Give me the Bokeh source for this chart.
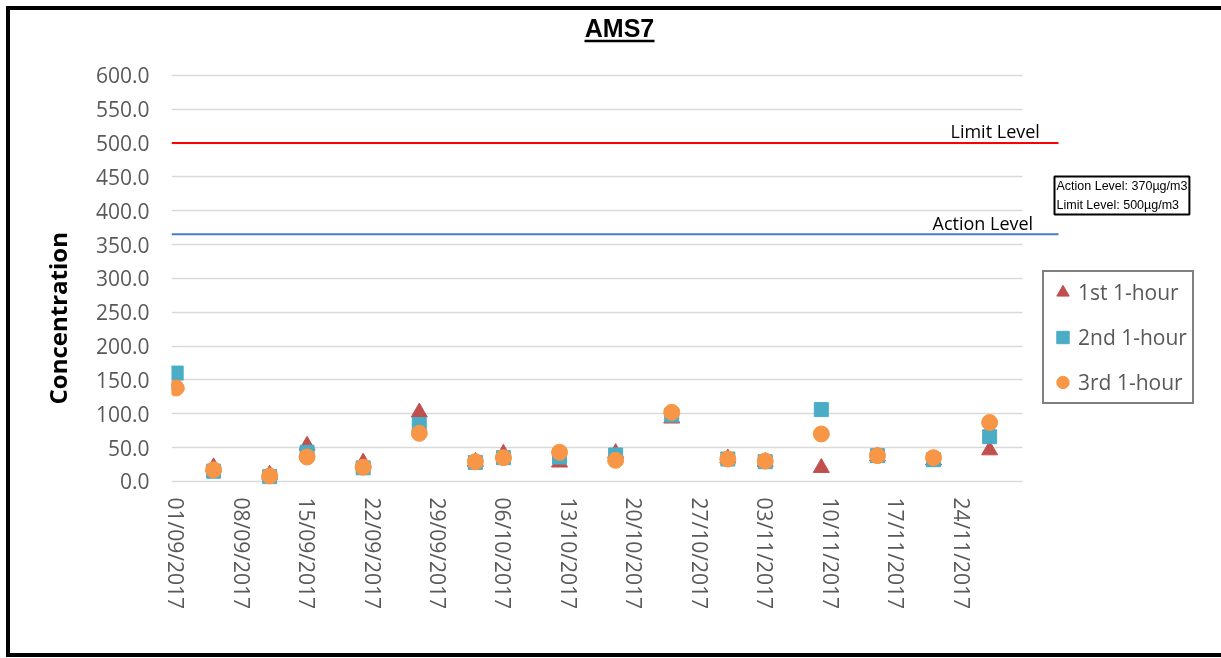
import datetime as dt
import math
from bokeh.plotting import figure
from bokeh.models import (ColumnDataSource, Range1d, FixedTicker, DatetimeTickFormatter,
                          NumeralTickFormatter, Label, Legend, LegendItem, BoxAnnotation, Title)
from bokeh.embed import file_html
from bokeh.resources import INLINE

# ---------------- data ----------------
title_text = "AMS7"
y_label = "Concentration"
dates = ["2017-09-01", "2017-09-05", "2017-09-11", "2017-09-15", "2017-09-21", "2017-09-27",
         "2017-10-03", "2017-10-06", "2017-10-12", "2017-10-18", "2017-10-24", "2017-10-30",
         "2017-11-03", "2017-11-09", "2017-11-15", "2017-11-21", "2017-11-27"]
first_hour = [142, 21, 10, 53, 28, 102, 29, 41, 28, 42, 93, 34, 29, 20, 37, 31, 46]
second_hour = [160, 15, 7, 43, 20, 84, 28, 35, 36, 39, 98, 33, 29, 106, 38, 32, 66]
third_hour = [138, 17, 8, 36, 21, 71, 29, 35, 43, 31, 102, 33, 30, 70, 38, 35, 87]
series_names = ["1st 1-hour", "2nd 1-hour", "3rd 1-hour"]
x_tick_labels = ["01/09/2017", "08/09/2017", "15/09/2017", "22/09/2017", "29/09/2017",
                 "06/10/2017", "13/10/2017", "20/10/2017", "27/10/2017", "03/11/2017",
                 "10/11/2017", "17/11/2017", "24/11/2017"]
y_tick_values = [0, 50, 100, 150, 200, 250, 300, 350, 400, 450, 500, 550, 600]
action_drawn = 365
limit_drawn = 500
action_text = "Action Level"
limit_text = "Limit Level"
note_text = "Action Level: 370\u00b5g/m3\nLimit Level: 500\u00b5g/m3"

# ---------------- layout ----------------
W, H = 1230, 651
LEFT = 161                   # frame left (canvas px)
FRAME_B = 481                # frame bottom (canvas px)
FRAME_W = W - LEFT
PX_PER_DAY = 9.35
PX_PER_UNIT = 406 / 600.0
Y_MIN = -15
EPOCH = dt.datetime(1970, 1, 1)


def ms(d):
    return (d - EPOCH).total_seconds() * 1000.0


x_start = dt.datetime(2017, 8, 31, 12)
x_end = x_start + dt.timedelta(days=FRAME_W / PX_PER_DAY)
grid_end = dt.datetime(2017, 11, 30, 12)
ref_line_end = x_start + dt.timedelta(days=(1058 - 171) / PX_PER_DAY)
y_max = Y_MIN + FRAME_B / PX_PER_UNIT

src = ColumnDataSource(dict(
    date=[dt.datetime.strptime(d, "%Y-%m-%d") for d in dates],
    first=first_hour, second=second_hour, third=third_hour))

p = figure(width=W, height=H, x_axis_type="datetime",
           x_range=Range1d(x_start, x_end), y_range=Range1d(Y_MIN, y_max),
           output_backend="svg", toolbar_location=None,
           min_border_left=LEFT, min_border_right=0,
           min_border_top=0, min_border_bottom=H - FRAME_B,
           background_fill_color="white", border_fill_color="white",
           styles={"border-left": "4px solid black", "border-top": "4px solid black",
                   "border-bottom": "4px solid black",
                   "position": "fixed", "left": "6px", "top": "6px"})
p.title.visible = False
p.outline_line_color = None
p.xgrid.visible = False
p.ygrid.grid_line_color = "#D9D9D9"
p.ygrid.grid_line_width = 1.5
p.ygrid.cross_bounds = (ms(x_start), ms(grid_end))

# axes
tick_dates = [dt.datetime.strptime(s, "%d/%m/%Y") for s in x_tick_labels]
p.xaxis.ticker = FixedTicker(ticks=[ms(d) for d in tick_dates])
fmt = "%d/%m/%Y"
p.xaxis.formatter = DatetimeTickFormatter(
    microseconds=fmt, milliseconds=fmt, seconds=fmt, minsec=fmt, minutes=fmt,
    hourmin=fmt, hours=fmt, days=fmt, months=fmt, years=fmt, strip_leading_zeros=False)
p.xaxis.major_label_orientation = -math.pi / 2
p.yaxis.ticker = FixedTicker(ticks=y_tick_values)
p.yaxis.formatter = NumeralTickFormatter(format="0.0")
p.ygrid.ticker = p.yaxis.ticker
for ax in (p.xaxis, p.yaxis):
    ax.axis_line_color = None
    ax.major_tick_line_color = None
    ax.minor_tick_line_color = None
    ax.major_tick_out = 0
    ax.major_label_text_font = "Open Sans"
    ax.major_label_text_font_size = "21px"
    ax.major_label_text_color = "#595959"
p.yaxis.major_label_standoff = 22
p.xaxis.major_label_standoff = 6

# y axis title (left side panel)
p.add_layout(Title(text=y_label, align="left", offset=87, standoff=38,
                   text_font="Open Sans", text_font_style="bold", text_font_size="24px",
                   text_color="black"), "left")

# reference lines
p.segment(x0=[x_start], x1=[ref_line_end], y0=[limit_drawn], y1=[limit_drawn],
          line_color="#FF0000", line_width=2)
p.segment(x0=[x_start], x1=[ref_line_end], y0=[action_drawn], y1=[action_drawn],
          line_color="#4A7EBB", line_width=2)

# series
r1 = p.scatter("date", "first", source=src, marker="triangle", size=16,
               fill_color="#C0504D", line_color="#C0504D")
r2 = p.scatter("date", "second", source=src, marker="square", size=14,
               fill_color="#4BACC6", line_color="#4BACC6")
r3 = p.scatter("date", "third", source=src, marker="circle", size=16,
               fill_color="#F79646", line_color="#F79646")

FX = 171  # frame left on page
FB = 491  # frame bottom on page

legend = Legend(items=[LegendItem(label=series_names[0], renderers=[r1]),
                       LegendItem(label=series_names[1], renderers=[r2]),
                       LegendItem(label=series_names[2], renderers=[r3])],
                location=(1042 - FX, FB - 404), orientation="vertical",
                border_line_color="black", border_line_width=2, background_fill_alpha=1,
                padding=3, spacing=11, glyph_width=31, glyph_height=34,
                label_standoff=0, label_width=111, margin=0,
                label_text_font="Open Sans", label_text_font_size="21px",
                label_text_color="#595959")
p.add_layout(legend)

# texts
p.add_layout(Label(x=950 - FX, y=FB - 130, x_units="screen", y_units="screen", text=limit_text,
                   text_font="Open Sans", text_font_size="18px", text_color="black",
                   text_baseline="alphabetic"))
p.add_layout(Label(x=932 - FX, y=FB - 222, x_units="screen", y_units="screen", text=action_text,
                   text_font="Open Sans", text_font_size="18px", text_color="black",
                   text_baseline="alphabetic"))
p.add_layout(Label(x=1054 - FX, y=FB - 176, x_units="screen", y_units="screen", text=note_text,
                   text_font="Liberation Sans", text_font_size="12.5px", text_color="black",
                   text_baseline="top", text_align="left", text_line_height=1.42,
                   padding=2, border_line_color="black", border_line_width=2,
                   background_fill_color="white"))
p.add_layout(Label(x=619 - FX, y=FB - 27, x_units="screen", y_units="screen", text=title_text,
                   text_font="Liberation Sans", text_font_style="bold", text_font_size="25px",
                   text_color="black", text_align="center", text_baseline="alphabetic"))
p.add_layout(BoxAnnotation(left=584 - FX, right=654 - FX, top=FB - 39.3, bottom=FB - 41.7,
                           left_units="screen", right_units="screen", top_units="screen",
                           bottom_units="screen", fill_color="black", fill_alpha=1,
                           line_color=None))

open("out.html", "w").write(file_html(p, INLINE))
